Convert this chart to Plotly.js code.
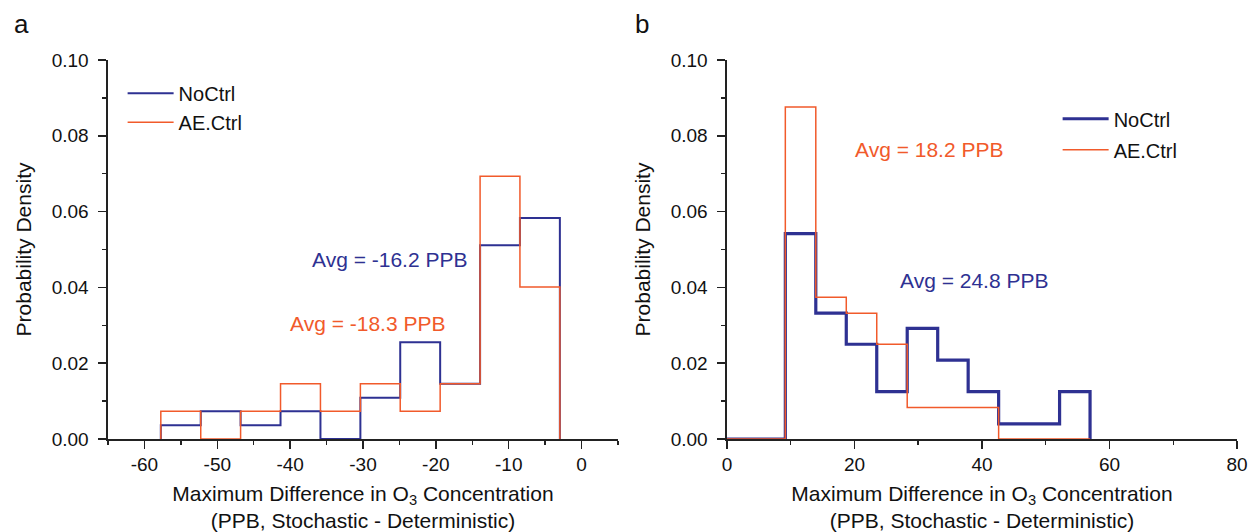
<!DOCTYPE html>
<html>
<head>
<meta charset="utf-8">
<script src="https://cdn.plot.ly/plotly-3.0.1.min.js"></script>
<style>html,body{margin:0;padding:0;background:#fff}#chart{width:1251px;height:532px}</style>
</head>
<body>
<div id="chart"></div>
<script>
// ---- Data ----
// Panel a: bin edges (PPB) and probability densities
const edgesA = [-57.75, -52.27, -46.80, -41.32, -35.84, -30.36, -24.89, -19.41, -13.93, -8.46, -2.98];
const noCtrlA = [0.0036, 0.0073, 0.0036, 0.0073, 0.0000, 0.0109, 0.0255, 0.0146, 0.0511, 0.0583];
const aeCtrlA = [0.0073, 0.0000, 0.0073, 0.0146, 0.0073, 0.0146, 0.0073, 0.0146, 0.0693, 0.0401];
// Panel b: bin edges (first bin 0 - 9.15 is empty) and densities
const edgesB = [0, 9.15, 13.93, 18.71, 23.49, 28.27, 33.05, 37.83, 42.61, 47.39, 52.17, 56.95];
const noCtrlB = [0, 0.0542, 0.0332, 0.0250, 0.0125, 0.0292, 0.0208, 0.0125, 0.0040, 0.0040, 0.0125];
const aeCtrlB = [0, 0.0876, 0.0374, 0.0332, 0.0250, 0.0083, 0.0083, 0.0083, 0, 0, 0];
const seriesNames = ["NoCtrl", "AE.Ctrl"];
const avgLabelsA = ["Avg = -16.2 PPB", "Avg = -18.3 PPB"];
const avgLabelsB = ["Avg = 24.8 PPB", "Avg = 18.2 PPB"];
const panelLabels = ["a", "b"];
const xTickValsA = [-60, -50, -40, -30, -20, -10, 0];
const xTickTextA = ["-60", "-50", "-40", "-30", "-20", "-10", "0"];
const xTickValsB = [0, 20, 40, 60, 80];
const xTickTextB = ["0", "20", "40", "60", "80"];
const yTickVals = [0, 0.02, 0.04, 0.06, 0.08, 0.10];
const yTickText = ["0.00", "0.02", "0.04", "0.06", "0.08", "0.10"];

// ---- Styling ----
const BLUE = "#2e3192";
const ORANGE = "#f15a2b";
const FONT = "Liberation Sans, Arial, sans-serif";

function stepXY(edges, h) {
  return { x: [edges[0]].concat(edges), y: [0].concat(h).concat([0]) };
}

const sA1 = stepXY(edgesA, noCtrlA), sA2 = stepXY(edgesA, aeCtrlA);
const sB1 = stepXY(edgesB, noCtrlB), sB2 = stepXY(edgesB, aeCtrlB);

const traces = [
  {x: sA1.x, y: sA1.y, type: "scatter", mode: "lines", name: seriesNames[0],
   line: {color: BLUE, width: 2, shape: "hv"}, xaxis: "x", yaxis: "y", legend: "legend"},
  {x: sA2.x, y: sA2.y, type: "scatter", mode: "lines", name: seriesNames[1],
   line: {color: ORANGE, width: 1.5, shape: "hv"}, xaxis: "x", yaxis: "y", legend: "legend"},
  {x: sB1.x, y: sB1.y, type: "scatter", mode: "lines", name: seriesNames[0],
   line: {color: BLUE, width: 3.2, shape: "hv"}, xaxis: "x2", yaxis: "y2", legend: "legend2", legendgroup: "g1"},
  {x: sB2.x, y: sB2.y, type: "scatter", mode: "lines", name: seriesNames[1],
   line: {color: ORANGE, width: 1.5, shape: "hv"}, xaxis: "x2", yaxis: "y2", legend: "legend2", legendgroup: "g2"}
];

const axisCommon = {
  showline: true, linecolor: "#222", linewidth: 1.5, mirror: false,
  showgrid: false, zeroline: false, ticks: "outside", ticklen: 8, tickwidth: 1.5, tickcolor: "#222",
  tickfont: {family: FONT, size: 19, color: "#111"}, automargin: false,
  minor: {ticks: "outside", ticklen: 4, tickwidth: 1.5, tickcolor: "#222", showgrid: false}
};
const xTitleText = "Maximum Difference in O<sub>3</sub> Concentration<br>(PPB, Stochastic - Deterministic)";
const yTitleText = "Probability Density";
const titleFont = {family: FONT, size: 21, color: "#111"};

const layout = {
  width: 1251, height: 532,
  margin: {l: 60, r: 14, t: 60, b: 93},
  paper_bgcolor: "#fff", plot_bgcolor: "#fff",
  font: {family: FONT, color: "#111"},
  hovermode: false,
  xaxis: Object.assign({}, axisCommon, {
    domain: [0.04078, 0.47409], range: [-65, 5], tickmode: "array", tickvals: xTickValsA, ticktext: xTickTextA,
    minor: Object.assign({}, axisCommon.minor, {tickmode: "linear", tick0: -65, dtick: 5}),
    anchor: "y", title: {text: xTitleText, font: titleFont, standoff: 16}
  }),
  yaxis: Object.assign({}, axisCommon, {
    domain: [0, 1], range: [0, 0.10], tickmode: "array", tickvals: yTickVals, ticktext: yTickText,
    minor: Object.assign({}, axisCommon.minor, {tickmode: "linear", dtick: 0.01, tick0: 0}),
    anchor: "x", ticklabelstandoff: 6, title: {text: yTitleText, font: titleFont, standoff: 14}
  }),
  xaxis2: Object.assign({}, axisCommon, {
    domain: [0.56669, 1], range: [0, 80], tickmode: "array", tickvals: xTickValsB, ticktext: xTickTextB,
    minor: Object.assign({}, axisCommon.minor, {tickmode: "linear", tick0: 0, dtick: 10}),
    anchor: "y2", title: {text: xTitleText, font: titleFont, standoff: 16}
  }),
  yaxis2: Object.assign({}, axisCommon, {
    domain: [0, 1], range: [0, 0.10], tickmode: "array", tickvals: yTickVals, ticktext: yTickText,
    minor: Object.assign({}, axisCommon.minor, {tickmode: "linear", dtick: 0.01, tick0: 0}),
    anchor: "x2", ticklabelstandoff: 6, title: {text: yTitleText, font: titleFont, standoff: 14}
  }),
  legend: {x: 0.0532, y: 0.964, xanchor: "left", yanchor: "top", bgcolor: "rgba(0,0,0,0)",
    font: {family: FONT, size: 20, color: "#111"}, itemwidth: 46, traceorder: "normal"},
  legend2: {x: 0.8476, y: 0.8964, xanchor: "left", yanchor: "top", bgcolor: "rgba(0,0,0,0)",
    font: {family: FONT, size: 20, color: "#111"}, itemwidth: 46, traceorder: "grouped", tracegroupgap: 2},
  annotations: [
    {xref: "x", yref: "y", x: -26.3, y: 0.0473, text: avgLabelsA[0], showarrow: false,
     font: {family: FONT, size: 21, color: BLUE}},
    {xref: "x", yref: "y", x: -29.4, y: 0.0306, text: avgLabelsA[1], showarrow: false,
     font: {family: FONT, size: 21, color: ORANGE}},
    {xref: "x2", yref: "y2", x: 38.8, y: 0.0417, text: avgLabelsB[0], showarrow: false,
     font: {family: FONT, size: 21, color: BLUE}},
    {xref: "x2", yref: "y2", x: 31.7, y: 0.0765, text: avgLabelsB[1], showarrow: false,
     font: {family: FONT, size: 21, color: ORANGE}},
    {xref: "paper", yref: "paper", x: -0.0325, y: 1.095, xanchor: "center", yanchor: "middle",
     text: panelLabels[0], showarrow: false, font: {family: FONT, size: 26, color: "#111"}},
    {xref: "paper", yref: "paper", x: 0.4949, y: 1.095, xanchor: "center", yanchor: "middle",
     text: panelLabels[1], showarrow: false, font: {family: FONT, size: 26, color: "#111"}}
  ],
  showlegend: true
};

Plotly.newPlot("chart", traces, layout, {displayModeBar: false, staticPlot: true});
</script>
</body>
</html>
